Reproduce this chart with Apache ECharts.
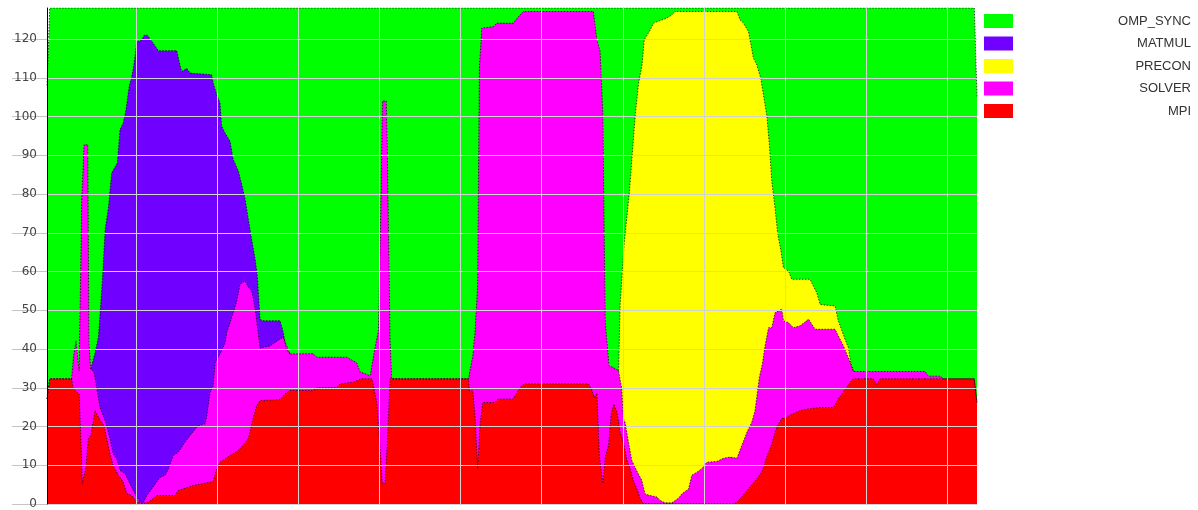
<!DOCTYPE html>
<html>
<head>
<meta charset="utf-8">
<script src="https://cdn.jsdelivr.net/npm/echarts@6.0.0/dist/echarts.min.js"></script>
<style>
html,body{margin:0;padding:0;background:#fff;}
#chart{width:1198px;height:510px;}
</style>
</head>
<body>
<div id="chart"></div>
<script>
// Series (legend order, top of stack first)
const seriesNames = ['OMP_SYNC', 'MATMUL', 'PRECON', 'SOLVER', 'MPI'];
const seriesColors = ['#00ff00', '#7000ff', '#ffff00', '#ff00ff', '#ff0000'];

// Y tick labels
const yTickValues = [0, 10, 20, 30, 40, 50, 60, 70, 80, 90, 100, 110, 120];
// X grid lines, in sample index (no labels shown)
const xGridSamples = [33, 63, 93, 123, 153, 183, 213, 243, 273, 303, 333];

// Cumulative (stacked) heights: [sample, height]
const ompSyncTop = [[0, 108], [1, 128], [343, 128], [344, 105]];

const matmulTop = [
  [16.2, 34.9], [17.8, 39.1], [19, 43], [20.5, 58], [21.5, 70.9], [22.7, 76.4], [23.9, 85.4], [26, 88],
  [27, 96.6], [28.2, 98.3], [29.2, 101.7], [30.4, 107.9], [31.3, 110.1], [32.2, 113.7], [33.2, 119.3],
  [35, 119.7], [35.9, 121], [37.1, 121], [38.7, 119.5], [41.2, 117], [48, 117], [48.9, 114.1],
  [49.8, 111.6], [51.7, 112.4], [52.9, 111.2], [60.9, 110.8], [61.5, 108.6], [62.8, 105.6], [64, 103.5],
  [64.6, 97.5], [65.9, 95.7], [67.7, 93.6], [68.9, 88.9], [70.8, 85.9], [72, 82.5], [73.3, 78.6],
  [74.5, 73.4], [75.7, 68.3], [77, 63.1], [77.8, 58.9], [78.8, 47.7], [79.8, 47.3], [86.2, 47.3],
  [87.4, 44.3], [88.4, 40], [89.9, 38.7]
];

const preconTop = [
  [211.4, 34.4], [212, 51.5], [213.5, 67.4], [215.4, 80.3], [216.6, 91.5], [217.6, 100.5], [218.8, 108.6],
  [220.1, 113.3], [220.9, 119.8], [223.1, 122.3], [224.3, 124.1], [229.3, 125.4], [231.1, 126.2],
  [232.3, 127.1], [255.2, 127.1], [256.4, 124.9], [257.6, 124.1], [259.5, 121.9], [261.3, 115.1],
  [262.6, 113.3], [264, 109.9], [265.3, 104.4], [266.3, 100], [267.2, 92.7], [268.1, 83.3], [269.3, 76.4],
  [270.3, 69.6], [271.4, 65.7], [272.4, 61], [274.3, 60.1], [275.5, 58], [282.3, 58], [283.5, 56.2],
  [284.7, 54.6], [286, 51.5], [291.5, 51.1], [292.7, 47.3], [295.2, 42.5], [296.4, 40.4], [297.3, 36.5],
  [298.3, 34.2]
];

const solverTop = [
  [0, 27.1], [1, 32.3], [9.1, 32.3], [9.7, 37.4], [10.7, 42.2], [11.9, 34.4], [12.8, 77.7], [13.7, 92.7],
  [15.1, 92.7], [15.5, 41.7], [16.2, 34.9], [17.4, 34], [19.6, 24.9], [20.8, 22.8], [22.1, 20.2],
  [23.3, 16.8], [24.5, 12.9], [25.8, 11.7], [27, 8.7], [28.9, 7.8], [31.9, 3.5], [34.4, 0.5], [35.6, 0.3],
  [36.9, 2.2], [38.7, 3.9], [41.8, 6.9], [43.7, 7.4], [44.9, 9.1], [46.7, 12.5], [48.6, 13.4], [51.1, 16],
  [52.9, 17.7], [55.4, 19.8], [56.6, 20.3], [58.5, 20.7], [59.1, 22.8], [60.3, 28.8], [61.5, 30.5],
  [62.2, 36.5], [64.6, 39.5], [65.9, 41.7], [66.5, 44.3], [67.7, 46.8], [70.2, 52.4], [71.4, 56.7],
  [73.3, 57.6], [74.5, 55.9], [75.7, 55], [77, 50.3], [78.8, 40.2], [80, 40.4], [82.5, 40.8], [86.2, 42.6],
  [87.4, 43], [89.9, 38.7], [98.5, 38.8], [99.8, 37.9], [110.9, 37.9], [114.6, 36.4], [115.8, 34.1],
  [119.5, 33.1], [120.2, 33], [121.7, 41.7], [122.6, 44.7], [123.3, 70], [124.1, 104], [125.5, 104],
  [125.9, 90.6], [126.9, 42.5], [127.5, 32.3], [155.9, 32.3], [156.2, 32.7], [157.5, 38.3], [158.3, 44.3],
  [159.3, 56.7], [159.9, 112], [160.8, 122.8], [165.1, 123.2], [166.4, 124.1], [172.5, 124.1],
  [174.4, 125.8], [176.2, 127.1], [202.1, 127.1], [203.4, 119.8], [204.6, 116.8], [205.6, 100.9],
  [206.5, 47], [207.9, 35.7], [209.5, 35.2], [211.4, 34.4], [212.6, 29.7], [213.2, 22], [213.8, 21.1],
  [215.1, 15.9], [216.3, 11.2], [217.5, 9.5], [218.4, 8.2], [220, 6.1], [221.2, 2.6], [223.1, 2.2],
  [225.6, 1.8], [226.8, 0.9], [228.6, 0.3], [231.1, 0.3], [233.6, 1.5], [234.8, 2.6], [237.3, 3.9],
  [238.5, 7.4], [240.4, 8.2], [242.2, 9.1], [244.1, 10.8], [247.8, 11], [250.2, 11.8], [252.7, 12.1],
  [255.2, 11.8], [257, 15.1], [258.9, 18.5], [260.7, 21.1], [261.9, 24.1], [263.5, 32.7], [264.6, 36.1],
  [265.6, 40.8], [266.9, 45.5], [268.1, 45.5], [269.3, 49.4], [270.6, 49.8], [271.8, 50.3], [272.4, 47.3],
  [274.3, 46.8], [276.1, 45.5], [278.6, 46], [281.7, 47.7], [284.1, 45.1], [291.5, 45.1], [292.7, 43.4],
  [294.6, 40.8], [297.1, 36.5], [298.3, 34.2], [324.8, 34.2], [326, 33], [330.4, 33], [331.6, 32.3],
  [343, 32.3], [344, 26.2]
];

const mpiTop = [
  [0, 27.1], [1, 32.3], [9.1, 32.3], [9.7, 29.7], [11.9, 28.4], [13.1, 5.2], [14.4, 9.5], [15.3, 16.8],
  [16.2, 17.7], [17.8, 24.1], [19.3, 22], [21.1, 20.2], [22.1, 16.8], [23.3, 12.9], [24.5, 9.9],
  [26.4, 7.4], [28.2, 5.7], [29.5, 2.7], [31.3, 2.2], [33.2, 0.5], [35.6, 0.1], [37.5, 0.5], [39.3, 1.4],
  [40.6, 2.2], [47.4, 2.2], [48.6, 3.5], [54.1, 4.8], [56.6, 5.1], [61.4, 5.8], [62.8, 9.1], [64, 10.8],
  [67.7, 12.5], [70.7, 13.8], [72, 14.7], [73.3, 15.9], [74.5, 17], [76.2, 22], [77.6, 25.4], [78.8, 26.7],
  [86.2, 26.9], [88, 28.4], [89.9, 29.3], [98.5, 29.3], [99.8, 30], [107.2, 30.1], [108.4, 31],
  [113.2, 31.4], [116.4, 32.3], [120.2, 32.3], [122, 26.1], [123.2, 14.2], [124, 5.6], [125, 5.2],
  [125.9, 15.9], [126.9, 32.3], [155.9, 32.3], [156.2, 29.2], [157.5, 29.2], [158.3, 22.8], [159.3, 9.1],
  [160.2, 20.7], [161.2, 26.2], [165.7, 26.2], [167, 27.1], [172.5, 27.1], [173.8, 28.8], [175.6, 30.5],
  [176.8, 31], [200.3, 31], [201.5, 29.5], [202.4, 27.5], [203.4, 28.6], [204.3, 12.5], [205.6, 5.3],
  [206.5, 12], [207.7, 15.1], [208.7, 23.3], [209.7, 25.8], [210.8, 23.7], [212, 18.5], [213.2, 16],
  [214.5, 11.2], [215.7, 9.1], [216.9, 6], [218.2, 3.9], [219.4, 1.4], [220.6, 0.1], [253.8, 0],
  [255.2, 0.5], [257, 1.8], [258.9, 3.5], [262.6, 6.5], [264.4, 8.2], [265.6, 10.8], [266.9, 13.4],
  [268.1, 15.5], [269.3, 18.5], [270.6, 20.7], [271.8, 22], [273.7, 22.4], [275.5, 23.2], [278.6, 24.1],
  [281.1, 24.5], [286, 24.9], [290.9, 24.9], [292.7, 27.1], [294, 28.4], [297.1, 31.4], [298.3, 32.3],
  [305.6, 32.3], [306.9, 30.9], [308.2, 32.3], [343, 32.3], [344, 26.2]
];

const seriesTops = [ompSyncTop, matmulTop, preconTop, solverTop, mpiTop];

const chart = echarts.init(document.getElementById('chart'), null, { renderer: 'canvas' });

const gridLineData = xGridSamples.map(function (x) { return { xAxis: x }; })
  .concat(yTickValues.map(function (y) { return { yAxis: y }; }));

const series = seriesNames.map(function (name, i) {
  const s = {
    name: name,
    type: 'line',
    data: seriesTops[i],
    symbol: 'none',
    showSymbol: false,
    smooth: false,
    itemStyle: { color: seriesColors[i] },
    lineStyle: { color: 'rgba(0,0,0,0.7)', width: 1, type: [1.5, 1.5] },
    areaStyle: { color: seriesColors[i], opacity: 1 },
    emphasis: { disabled: true },
    silent: true
  };
  if (i === seriesNames.length - 1) {
    s.markLine = {
      silent: true,
      symbol: ['none', 'none'],
      label: { show: false },
      emphasis: { disabled: true },
      lineStyle: { color: '#d2d2d2', width: 1, type: 'solid', opacity: 1 },
      data: gridLineData
    };
  }
  return s;
});

chart.setOption({
  animation: false,
  backgroundColor: '#ffffff',
  grid: { left: 47, top: 8, width: 930, height: 497, containLabel: false },
  xAxis: {
    type: 'value', min: 0, max: 344, show: false
  },
  yAxis: {
    type: 'value', min: 0, max: 128, interval: 10, z: 10,
    axisLine: { show: true, lineStyle: { color: '#000000', width: 1 } },
    axisTick: { show: true, length: 35, customValues: yTickValues, lineStyle: { color: '#c4c4c4', width: 1 } },
    axisLabel: {
      customValues: yTickValues, margin: 10, color: '#444444', fontSize: 12, fontFamily: 'DejaVu Sans',
      formatter: function (v) { return (v % 10 === 0) ? String(v) : ''; }
    },
    splitLine: { show: false }
  },
  legend: {
    orient: 'vertical', left: 984, top: 14, padding: 0,
    itemWidth: 29, itemHeight: 14, itemGap: 8.5, icon: 'rect',
    selectedMode: false,
    data: seriesNames,
    itemStyle: { borderWidth: 0 },
    formatter: function (name) { return '{n|' + name + '}'; },
    textStyle: {
      rich: {
        n: { width: 173, align: 'right', fontFamily: 'Liberation Sans', fontSize: 13, color: '#333333', lineHeight: 14 }
      }
    }
  },
  series: series
});
</script>
</body>
</html>
